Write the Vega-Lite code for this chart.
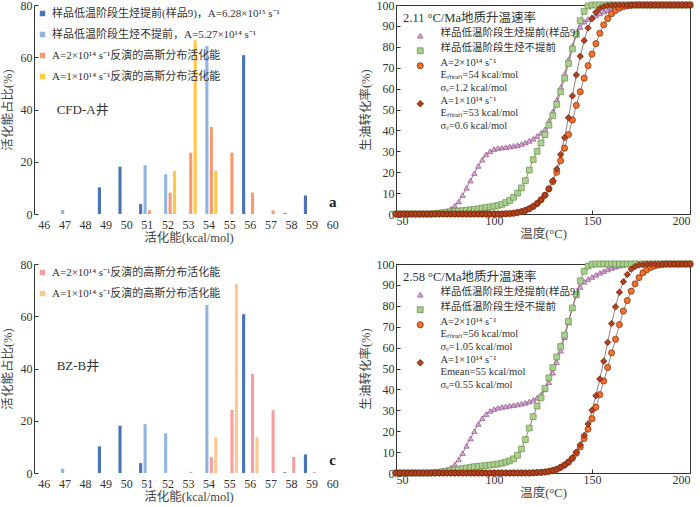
{
"$schema": "https://vega.github.io/schema/vega-lite/v6.json",
"padding": {"left": 1, "top": -2, "right": 2, "bottom": 0},
"columns": 2,
"spacing": {"row": 50, "column": 53},
"bounds": "flush",
"resolve": {
  "scale": {"color": "independent", "fill": "independent", "stroke": "independent", "shape": "independent", "size": "independent"},
  "legend": {"color": "independent", "fill": "independent", "stroke": "independent", "shape": "independent", "size": "independent"}
},
"config": {
  "font": "'Liberation Serif', 'Noto Sans CJK SC'",
  "view": {"stroke": null},
  "axis": {"labelFont": "'Liberation Serif', 'Noto Sans CJK SC'", "titleFont": "'Liberation Serif', 'Noto Sans CJK SC'", "labelFontSize": 12, "titleFontSize": 12.5, "titleFontWeight": "normal", "labelColor": "#333", "titleColor": "#444", "domainColor": "#333", "tickColor": "#333", "grid": false, "tickSize": -4},
  "legend": {"labelFont": "'Liberation Serif', 'Noto Sans CJK SC'", "titleFont": "'Liberation Serif', 'Noto Sans CJK SC'", "labelColor": "#333", "titleColor": "#333"}
},
"datasets": {
"bars": [
{"p":"a","E":49,"s":"s1","v":10.2},{"p":"a","E":50,"s":"s1","v":18.1},{"p":"a","E":51,"s":"s1","v":3.8},{"p":"a","E":56,"s":"s1","v":60.8},{"p":"a","E":58,"s":"s1","v":0.3},{"p":"a","E":59,"s":"s1","v":7.1},
{"p":"a","E":47,"s":"s2","v":1.6},{"p":"a","E":51,"s":"s2","v":18.7},{"p":"a","E":52,"s":"s2","v":15.2},{"p":"a","E":54,"s":"s2","v":64.3},
{"p":"a","E":51,"s":"s3","v":1.4},{"p":"a","E":52,"s":"s3","v":8.2},{"p":"a","E":53,"s":"s3","v":23.5},{"p":"a","E":54,"s":"s3","v":33.3},{"p":"a","E":55,"s":"s3","v":23.5},{"p":"a","E":56,"s":"s3","v":8.2},{"p":"a","E":57,"s":"s3","v":1.4},
{"p":"a","E":52,"s":"s4","v":16.5},{"p":"a","E":53,"s":"s4","v":66.5},{"p":"a","E":54,"s":"s4","v":16.5},
{"p":"c","E":49,"s":"s1","v":10.2},{"p":"c","E":50,"s":"s1","v":18.1},{"p":"c","E":51,"s":"s1","v":3.8},{"p":"c","E":56,"s":"s1","v":60.8},{"p":"c","E":58,"s":"s1","v":0.3},{"p":"c","E":59,"s":"s1","v":7.1},
{"p":"c","E":47,"s":"s2","v":1.6},{"p":"c","E":51,"s":"s2","v":18.7},{"p":"c","E":52,"s":"s2","v":15.2},{"p":"c","E":54,"s":"s2","v":64.3},
{"p":"c","E":53,"s":"s3","v":0.4},{"p":"c","E":54,"s":"s3","v":6.1},{"p":"c","E":55,"s":"s3","v":24.1},{"p":"c","E":56,"s":"s3","v":37.9},{"p":"c","E":57,"s":"s3","v":24.1},{"p":"c","E":58,"s":"s3","v":6.1},{"p":"c","E":59,"s":"s3","v":0.4},
{"p":"c","E":54,"s":"s4","v":13.7},{"p":"c","E":55,"s":"s4","v":72.4},{"p":"c","E":56,"s":"s4","v":13.7}
],
"curves": [
{"p":"b","s":"tri","T":50,"v":0},{"p":"b","s":"tri","T":52,"v":0},{"p":"b","s":"tri","T":54,"v":0},{"p":"b","s":"tri","T":56,"v":0},{"p":"b","s":"tri","T":58,"v":0},{"p":"b","s":"tri","T":60,"v":0},{"p":"b","s":"tri","T":62,"v":0},{"p":"b","s":"tri","T":64,"v":0},{"p":"b","s":"tri","T":66,"v":0},{"p":"b","s":"tri","T":68,"v":0},
{"p":"b","s":"tri","T":70,"v":0.3},{"p":"b","s":"tri","T":72,"v":0.6},{"p":"b","s":"tri","T":74,"v":1},{"p":"b","s":"tri","T":76,"v":1.5},{"p":"b","s":"tri","T":78,"v":2.5},{"p":"b","s":"tri","T":80,"v":4},{"p":"b","s":"tri","T":82,"v":6},{"p":"b","s":"tri","T":84,"v":9},{"p":"b","s":"tri","T":86,"v":12.5},{"p":"b","s":"tri","T":88,"v":16},
{"p":"b","s":"tri","T":90,"v":19.5},{"p":"b","s":"tri","T":92,"v":23},{"p":"b","s":"tri","T":94,"v":26},{"p":"b","s":"tri","T":96,"v":28.5},{"p":"b","s":"tri","T":98,"v":30},{"p":"b","s":"tri","T":100,"v":31},{"p":"b","s":"tri","T":102,"v":31.5},{"p":"b","s":"tri","T":104,"v":31.8},{"p":"b","s":"tri","T":106,"v":32},{"p":"b","s":"tri","T":108,"v":32.3},
{"p":"b","s":"tri","T":110,"v":32.6},{"p":"b","s":"tri","T":112,"v":33},{"p":"b","s":"tri","T":114,"v":33.5},{"p":"b","s":"tri","T":116,"v":34.2},{"p":"b","s":"tri","T":118,"v":35},{"p":"b","s":"tri","T":120,"v":36},{"p":"b","s":"tri","T":122,"v":37.3},{"p":"b","s":"tri","T":124,"v":38.8},{"p":"b","s":"tri","T":126,"v":40.5},{"p":"b","s":"tri","T":128,"v":44.5},
{"p":"b","s":"tri","T":130,"v":49},{"p":"b","s":"tri","T":132,"v":54.5},{"p":"b","s":"tri","T":134,"v":60.5},{"p":"b","s":"tri","T":136,"v":67},{"p":"b","s":"tri","T":138,"v":74},{"p":"b","s":"tri","T":140,"v":80.5},{"p":"b","s":"tri","T":142,"v":86},{"p":"b","s":"tri","T":144,"v":89.5},{"p":"b","s":"tri","T":146,"v":92},{"p":"b","s":"tri","T":148,"v":93.2},
{"p":"b","s":"tri","T":150,"v":94.2},{"p":"b","s":"tri","T":152,"v":95.2},{"p":"b","s":"tri","T":154,"v":96},{"p":"b","s":"tri","T":156,"v":96.8},{"p":"b","s":"tri","T":158,"v":97.5},{"p":"b","s":"tri","T":160,"v":98.2},{"p":"b","s":"tri","T":162,"v":98.8},{"p":"b","s":"tri","T":164,"v":99.3},{"p":"b","s":"tri","T":166,"v":99.7},{"p":"b","s":"tri","T":168,"v":100},
{"p":"b","s":"tri","T":170,"v":100},{"p":"b","s":"tri","T":172,"v":100},{"p":"b","s":"tri","T":174,"v":100},{"p":"b","s":"tri","T":176,"v":100},{"p":"b","s":"tri","T":178,"v":100},{"p":"b","s":"tri","T":180,"v":100},{"p":"b","s":"tri","T":182,"v":100},{"p":"b","s":"tri","T":184,"v":100},{"p":"b","s":"tri","T":186,"v":100},{"p":"b","s":"tri","T":188,"v":100},
{"p":"b","s":"tri","T":190,"v":100},{"p":"b","s":"tri","T":192,"v":100},{"p":"b","s":"tri","T":194,"v":100},{"p":"b","s":"tri","T":196,"v":100},{"p":"b","s":"tri","T":198,"v":100},{"p":"b","s":"tri","T":200,"v":100},

{"p":"b","s":"sq","T":50,"v":0},{"p":"b","s":"sq","T":52,"v":0},{"p":"b","s":"sq","T":54,"v":0},{"p":"b","s":"sq","T":56,"v":0},{"p":"b","s":"sq","T":58,"v":0},{"p":"b","s":"sq","T":60,"v":0},{"p":"b","s":"sq","T":62,"v":0},{"p":"b","s":"sq","T":64,"v":0},{"p":"b","s":"sq","T":66,"v":0},{"p":"b","s":"sq","T":68,"v":0},
{"p":"b","s":"sq","T":70,"v":0.2},{"p":"b","s":"sq","T":72,"v":0.4},{"p":"b","s":"sq","T":74,"v":0.6},{"p":"b","s":"sq","T":76,"v":0.8},{"p":"b","s":"sq","T":78,"v":1},{"p":"b","s":"sq","T":80,"v":1.2},{"p":"b","s":"sq","T":82,"v":1.4},{"p":"b","s":"sq","T":84,"v":1.6},{"p":"b","s":"sq","T":86,"v":1.8},{"p":"b","s":"sq","T":88,"v":2},
{"p":"b","s":"sq","T":90,"v":2.2},{"p":"b","s":"sq","T":92,"v":2.5},{"p":"b","s":"sq","T":94,"v":2.8},{"p":"b","s":"sq","T":96,"v":3.1},{"p":"b","s":"sq","T":98,"v":3.4},{"p":"b","s":"sq","T":100,"v":3.7},{"p":"b","s":"sq","T":102,"v":4.1},{"p":"b","s":"sq","T":104,"v":4.6},{"p":"b","s":"sq","T":106,"v":5.5},{"p":"b","s":"sq","T":108,"v":6.5},
{"p":"b","s":"sq","T":110,"v":8},{"p":"b","s":"sq","T":112,"v":10},{"p":"b","s":"sq","T":114,"v":12.5},{"p":"b","s":"sq","T":116,"v":16},{"p":"b","s":"sq","T":118,"v":21},{"p":"b","s":"sq","T":120,"v":26},{"p":"b","s":"sq","T":122,"v":30},{"p":"b","s":"sq","T":124,"v":34},{"p":"b","s":"sq","T":126,"v":38},{"p":"b","s":"sq","T":128,"v":42.5},
{"p":"b","s":"sq","T":130,"v":47},{"p":"b","s":"sq","T":132,"v":52.5},{"p":"b","s":"sq","T":134,"v":58.5},{"p":"b","s":"sq","T":136,"v":65},{"p":"b","s":"sq","T":138,"v":72},{"p":"b","s":"sq","T":140,"v":79},{"p":"b","s":"sq","T":142,"v":86},{"p":"b","s":"sq","T":144,"v":92.5},{"p":"b","s":"sq","T":146,"v":97},{"p":"b","s":"sq","T":148,"v":99.5},
{"p":"b","s":"sq","T":150,"v":100},{"p":"b","s":"sq","T":152,"v":100},{"p":"b","s":"sq","T":154,"v":100},{"p":"b","s":"sq","T":156,"v":100},{"p":"b","s":"sq","T":158,"v":100},{"p":"b","s":"sq","T":160,"v":100},{"p":"b","s":"sq","T":162,"v":100},{"p":"b","s":"sq","T":164,"v":100},{"p":"b","s":"sq","T":166,"v":100},{"p":"b","s":"sq","T":168,"v":100},
{"p":"b","s":"sq","T":170,"v":100},{"p":"b","s":"sq","T":172,"v":100},{"p":"b","s":"sq","T":174,"v":100},{"p":"b","s":"sq","T":176,"v":100},{"p":"b","s":"sq","T":178,"v":100},{"p":"b","s":"sq","T":180,"v":100},{"p":"b","s":"sq","T":182,"v":100},{"p":"b","s":"sq","T":184,"v":100},{"p":"b","s":"sq","T":186,"v":100},{"p":"b","s":"sq","T":188,"v":100},
{"p":"b","s":"sq","T":190,"v":100},{"p":"b","s":"sq","T":192,"v":100},{"p":"b","s":"sq","T":194,"v":100},{"p":"b","s":"sq","T":196,"v":100},{"p":"b","s":"sq","T":198,"v":100},{"p":"b","s":"sq","T":200,"v":100},

{"p":"b","s":"ci","T":50,"v":0},{"p":"b","s":"ci","T":52,"v":0},{"p":"b","s":"ci","T":54,"v":0},{"p":"b","s":"ci","T":56,"v":0},{"p":"b","s":"ci","T":58,"v":0},{"p":"b","s":"ci","T":60,"v":0},{"p":"b","s":"ci","T":62,"v":0},{"p":"b","s":"ci","T":64,"v":0},{"p":"b","s":"ci","T":66,"v":0},{"p":"b","s":"ci","T":68,"v":0},
{"p":"b","s":"ci","T":70,"v":0},{"p":"b","s":"ci","T":72,"v":0},{"p":"b","s":"ci","T":74,"v":0},{"p":"b","s":"ci","T":76,"v":0},{"p":"b","s":"ci","T":78,"v":0},{"p":"b","s":"ci","T":80,"v":0},{"p":"b","s":"ci","T":82,"v":0},{"p":"b","s":"ci","T":84,"v":0},{"p":"b","s":"ci","T":86,"v":0},{"p":"b","s":"ci","T":88,"v":0},
{"p":"b","s":"ci","T":90,"v":0},{"p":"b","s":"ci","T":92,"v":0},{"p":"b","s":"ci","T":94,"v":0},{"p":"b","s":"ci","T":96,"v":0},{"p":"b","s":"ci","T":98,"v":0},{"p":"b","s":"ci","T":100,"v":0},{"p":"b","s":"ci","T":102,"v":0},{"p":"b","s":"ci","T":104,"v":0},{"p":"b","s":"ci","T":106,"v":0.1},{"p":"b","s":"ci","T":108,"v":0.2},
{"p":"b","s":"ci","T":110,"v":0.4},{"p":"b","s":"ci","T":112,"v":0.7},{"p":"b","s":"ci","T":114,"v":1.1},{"p":"b","s":"ci","T":116,"v":1.7},{"p":"b","s":"ci","T":118,"v":2.5},{"p":"b","s":"ci","T":120,"v":3.6},{"p":"b","s":"ci","T":122,"v":5},{"p":"b","s":"ci","T":124,"v":6.8},{"p":"b","s":"ci","T":126,"v":9},{"p":"b","s":"ci","T":128,"v":12},
{"p":"b","s":"ci","T":130,"v":15.5},{"p":"b","s":"ci","T":132,"v":20},{"p":"b","s":"ci","T":134,"v":25.5},{"p":"b","s":"ci","T":136,"v":31.5},{"p":"b","s":"ci","T":138,"v":38},{"p":"b","s":"ci","T":140,"v":45},{"p":"b","s":"ci","T":142,"v":52},{"p":"b","s":"ci","T":144,"v":58.5},{"p":"b","s":"ci","T":146,"v":65},{"p":"b","s":"ci","T":148,"v":71},
{"p":"b","s":"ci","T":150,"v":76.5},{"p":"b","s":"ci","T":152,"v":81.5},{"p":"b","s":"ci","T":154,"v":86.5},{"p":"b","s":"ci","T":156,"v":90.5},{"p":"b","s":"ci","T":158,"v":93.5},{"p":"b","s":"ci","T":160,"v":95.8},{"p":"b","s":"ci","T":162,"v":97.4},{"p":"b","s":"ci","T":164,"v":98.5},{"p":"b","s":"ci","T":166,"v":99.2},{"p":"b","s":"ci","T":168,"v":99.6},
{"p":"b","s":"ci","T":170,"v":99.9},{"p":"b","s":"ci","T":172,"v":100},{"p":"b","s":"ci","T":174,"v":100},{"p":"b","s":"ci","T":176,"v":100},{"p":"b","s":"ci","T":178,"v":100},{"p":"b","s":"ci","T":180,"v":100},{"p":"b","s":"ci","T":182,"v":100},{"p":"b","s":"ci","T":184,"v":100},{"p":"b","s":"ci","T":186,"v":100},{"p":"b","s":"ci","T":188,"v":100},
{"p":"b","s":"ci","T":190,"v":100},{"p":"b","s":"ci","T":192,"v":100},{"p":"b","s":"ci","T":194,"v":100},{"p":"b","s":"ci","T":196,"v":100},{"p":"b","s":"ci","T":198,"v":100},{"p":"b","s":"ci","T":200,"v":100},

{"p":"b","s":"di","T":50,"v":0},{"p":"b","s":"di","T":52,"v":0},{"p":"b","s":"di","T":54,"v":0},{"p":"b","s":"di","T":56,"v":0},{"p":"b","s":"di","T":58,"v":0},{"p":"b","s":"di","T":60,"v":0},{"p":"b","s":"di","T":62,"v":0},{"p":"b","s":"di","T":64,"v":0},{"p":"b","s":"di","T":66,"v":0},{"p":"b","s":"di","T":68,"v":0},
{"p":"b","s":"di","T":70,"v":0},{"p":"b","s":"di","T":72,"v":0},{"p":"b","s":"di","T":74,"v":0},{"p":"b","s":"di","T":76,"v":0},{"p":"b","s":"di","T":78,"v":0},{"p":"b","s":"di","T":80,"v":0},{"p":"b","s":"di","T":82,"v":0},{"p":"b","s":"di","T":84,"v":0},{"p":"b","s":"di","T":86,"v":0},{"p":"b","s":"di","T":88,"v":0},
{"p":"b","s":"di","T":90,"v":0},{"p":"b","s":"di","T":92,"v":0},{"p":"b","s":"di","T":94,"v":0},{"p":"b","s":"di","T":96,"v":0},{"p":"b","s":"di","T":98,"v":0},{"p":"b","s":"di","T":100,"v":0},{"p":"b","s":"di","T":102,"v":0},{"p":"b","s":"di","T":104,"v":0},{"p":"b","s":"di","T":106,"v":0.1},{"p":"b","s":"di","T":108,"v":0.2},
{"p":"b","s":"di","T":110,"v":0.4},{"p":"b","s":"di","T":112,"v":0.7},{"p":"b","s":"di","T":114,"v":1.1},{"p":"b","s":"di","T":116,"v":1.7},{"p":"b","s":"di","T":118,"v":2.5},{"p":"b","s":"di","T":120,"v":3.6},{"p":"b","s":"di","T":122,"v":5},{"p":"b","s":"di","T":124,"v":6.8},{"p":"b","s":"di","T":126,"v":9},{"p":"b","s":"di","T":128,"v":12},
{"p":"b","s":"di","T":130,"v":16},{"p":"b","s":"di","T":132,"v":21.5},{"p":"b","s":"di","T":134,"v":28.5},{"p":"b","s":"di","T":136,"v":36.5},{"p":"b","s":"di","T":138,"v":46},{"p":"b","s":"di","T":140,"v":56.5},{"p":"b","s":"di","T":142,"v":66.5},{"p":"b","s":"di","T":144,"v":75.5},{"p":"b","s":"di","T":146,"v":83},{"p":"b","s":"di","T":148,"v":89},
{"p":"b","s":"di","T":150,"v":93.5},{"p":"b","s":"di","T":152,"v":96.5},{"p":"b","s":"di","T":154,"v":98.3},{"p":"b","s":"di","T":156,"v":99.2},{"p":"b","s":"di","T":158,"v":99.7},{"p":"b","s":"di","T":160,"v":100},{"p":"b","s":"di","T":162,"v":100},{"p":"b","s":"di","T":164,"v":100},{"p":"b","s":"di","T":166,"v":100},{"p":"b","s":"di","T":168,"v":100},
{"p":"b","s":"di","T":170,"v":100},{"p":"b","s":"di","T":172,"v":100},{"p":"b","s":"di","T":174,"v":100},{"p":"b","s":"di","T":176,"v":100},{"p":"b","s":"di","T":178,"v":100},{"p":"b","s":"di","T":180,"v":100},{"p":"b","s":"di","T":182,"v":100},{"p":"b","s":"di","T":184,"v":100},{"p":"b","s":"di","T":186,"v":100},{"p":"b","s":"di","T":188,"v":100},
{"p":"b","s":"di","T":190,"v":100},{"p":"b","s":"di","T":192,"v":100},{"p":"b","s":"di","T":194,"v":100},{"p":"b","s":"di","T":196,"v":100},{"p":"b","s":"di","T":198,"v":100},{"p":"b","s":"di","T":200,"v":100},

{"p":"d","s":"tri","T":50,"v":0},{"p":"d","s":"tri","T":52,"v":0},{"p":"d","s":"tri","T":54,"v":0},{"p":"d","s":"tri","T":56,"v":0},{"p":"d","s":"tri","T":58,"v":0},{"p":"d","s":"tri","T":60,"v":0},{"p":"d","s":"tri","T":62,"v":0},{"p":"d","s":"tri","T":64,"v":0},{"p":"d","s":"tri","T":66,"v":0},{"p":"d","s":"tri","T":68,"v":0},
{"p":"d","s":"tri","T":70,"v":0.3},{"p":"d","s":"tri","T":72,"v":0.6},{"p":"d","s":"tri","T":74,"v":1},{"p":"d","s":"tri","T":76,"v":1.6},{"p":"d","s":"tri","T":78,"v":2.6},{"p":"d","s":"tri","T":80,"v":4.2},{"p":"d","s":"tri","T":82,"v":6.5},{"p":"d","s":"tri","T":84,"v":9.5},{"p":"d","s":"tri","T":86,"v":13},{"p":"d","s":"tri","T":88,"v":16.5},
{"p":"d","s":"tri","T":90,"v":20},{"p":"d","s":"tri","T":92,"v":23.5},{"p":"d","s":"tri","T":94,"v":26.2},{"p":"d","s":"tri","T":96,"v":28.2},{"p":"d","s":"tri","T":98,"v":29.7},{"p":"d","s":"tri","T":100,"v":30.6},{"p":"d","s":"tri","T":102,"v":31.2},{"p":"d","s":"tri","T":104,"v":31.6},{"p":"d","s":"tri","T":106,"v":31.9},{"p":"d","s":"tri","T":108,"v":32.2},
{"p":"d","s":"tri","T":110,"v":32.5},{"p":"d","s":"tri","T":112,"v":32.8},{"p":"d","s":"tri","T":114,"v":33.2},{"p":"d","s":"tri","T":116,"v":33.6},{"p":"d","s":"tri","T":118,"v":34.2},{"p":"d","s":"tri","T":120,"v":35},{"p":"d","s":"tri","T":122,"v":36},{"p":"d","s":"tri","T":124,"v":37.5},{"p":"d","s":"tri","T":126,"v":40},{"p":"d","s":"tri","T":128,"v":43.5},
{"p":"d","s":"tri","T":130,"v":48},{"p":"d","s":"tri","T":132,"v":53},{"p":"d","s":"tri","T":134,"v":58.5},{"p":"d","s":"tri","T":136,"v":65},{"p":"d","s":"tri","T":138,"v":72},{"p":"d","s":"tri","T":140,"v":79},{"p":"d","s":"tri","T":142,"v":85},{"p":"d","s":"tri","T":144,"v":89},{"p":"d","s":"tri","T":146,"v":91.5},{"p":"d","s":"tri","T":148,"v":92.8},
{"p":"d","s":"tri","T":150,"v":93.8},{"p":"d","s":"tri","T":152,"v":94.8},{"p":"d","s":"tri","T":154,"v":95.8},{"p":"d","s":"tri","T":156,"v":96.6},{"p":"d","s":"tri","T":158,"v":97.4},{"p":"d","s":"tri","T":160,"v":98.1},{"p":"d","s":"tri","T":162,"v":98.7},{"p":"d","s":"tri","T":164,"v":99.2},{"p":"d","s":"tri","T":166,"v":99.6},{"p":"d","s":"tri","T":168,"v":99.9},
{"p":"d","s":"tri","T":170,"v":100},{"p":"d","s":"tri","T":172,"v":100},{"p":"d","s":"tri","T":174,"v":100},{"p":"d","s":"tri","T":176,"v":100},{"p":"d","s":"tri","T":178,"v":100},{"p":"d","s":"tri","T":180,"v":100},{"p":"d","s":"tri","T":182,"v":100},{"p":"d","s":"tri","T":184,"v":100},{"p":"d","s":"tri","T":186,"v":100},{"p":"d","s":"tri","T":188,"v":100},
{"p":"d","s":"tri","T":190,"v":100},{"p":"d","s":"tri","T":192,"v":100},{"p":"d","s":"tri","T":194,"v":100},{"p":"d","s":"tri","T":196,"v":100},{"p":"d","s":"tri","T":198,"v":100},{"p":"d","s":"tri","T":200,"v":100},

{"p":"d","s":"sq","T":50,"v":0},{"p":"d","s":"sq","T":52,"v":0},{"p":"d","s":"sq","T":54,"v":0},{"p":"d","s":"sq","T":56,"v":0},{"p":"d","s":"sq","T":58,"v":0},{"p":"d","s":"sq","T":60,"v":0},{"p":"d","s":"sq","T":62,"v":0},{"p":"d","s":"sq","T":64,"v":0},{"p":"d","s":"sq","T":66,"v":0},{"p":"d","s":"sq","T":68,"v":0},
{"p":"d","s":"sq","T":70,"v":0.2},{"p":"d","s":"sq","T":72,"v":0.4},{"p":"d","s":"sq","T":74,"v":0.6},{"p":"d","s":"sq","T":76,"v":0.9},{"p":"d","s":"sq","T":78,"v":1.2},{"p":"d","s":"sq","T":80,"v":1.5},{"p":"d","s":"sq","T":82,"v":1.8},{"p":"d","s":"sq","T":84,"v":2.1},{"p":"d","s":"sq","T":86,"v":2.4},{"p":"d","s":"sq","T":88,"v":2.7},
{"p":"d","s":"sq","T":90,"v":3},{"p":"d","s":"sq","T":92,"v":3.2},{"p":"d","s":"sq","T":94,"v":3.4},{"p":"d","s":"sq","T":96,"v":3.6},{"p":"d","s":"sq","T":98,"v":3.8},{"p":"d","s":"sq","T":100,"v":4},{"p":"d","s":"sq","T":102,"v":4.3},{"p":"d","s":"sq","T":104,"v":4.7},{"p":"d","s":"sq","T":106,"v":5.2},{"p":"d","s":"sq","T":108,"v":5.8},
{"p":"d","s":"sq","T":110,"v":6.8},{"p":"d","s":"sq","T":112,"v":8.5},{"p":"d","s":"sq","T":114,"v":11.5},{"p":"d","s":"sq","T":116,"v":16},{"p":"d","s":"sq","T":118,"v":21.5},{"p":"d","s":"sq","T":120,"v":27},{"p":"d","s":"sq","T":122,"v":32},{"p":"d","s":"sq","T":124,"v":36},{"p":"d","s":"sq","T":126,"v":40.5},{"p":"d","s":"sq","T":128,"v":45.5},
{"p":"d","s":"sq","T":130,"v":50.5},{"p":"d","s":"sq","T":132,"v":55.5},{"p":"d","s":"sq","T":134,"v":60.5},{"p":"d","s":"sq","T":136,"v":66},{"p":"d","s":"sq","T":138,"v":72.5},{"p":"d","s":"sq","T":140,"v":79},{"p":"d","s":"sq","T":142,"v":85.5},{"p":"d","s":"sq","T":144,"v":92},{"p":"d","s":"sq","T":146,"v":96.5},{"p":"d","s":"sq","T":148,"v":99},
{"p":"d","s":"sq","T":150,"v":99.8},{"p":"d","s":"sq","T":152,"v":100},{"p":"d","s":"sq","T":154,"v":100},{"p":"d","s":"sq","T":156,"v":100},{"p":"d","s":"sq","T":158,"v":100},{"p":"d","s":"sq","T":160,"v":100},{"p":"d","s":"sq","T":162,"v":100},{"p":"d","s":"sq","T":164,"v":100},{"p":"d","s":"sq","T":166,"v":100},{"p":"d","s":"sq","T":168,"v":100},
{"p":"d","s":"sq","T":170,"v":100},{"p":"d","s":"sq","T":172,"v":100},{"p":"d","s":"sq","T":174,"v":100},{"p":"d","s":"sq","T":176,"v":100},{"p":"d","s":"sq","T":178,"v":100},{"p":"d","s":"sq","T":180,"v":100},{"p":"d","s":"sq","T":182,"v":100},{"p":"d","s":"sq","T":184,"v":100},{"p":"d","s":"sq","T":186,"v":100},{"p":"d","s":"sq","T":188,"v":100},
{"p":"d","s":"sq","T":190,"v":100},{"p":"d","s":"sq","T":192,"v":100},{"p":"d","s":"sq","T":194,"v":100},{"p":"d","s":"sq","T":196,"v":100},{"p":"d","s":"sq","T":198,"v":100},{"p":"d","s":"sq","T":200,"v":100},

{"p":"d","s":"ci","T":50,"v":0},{"p":"d","s":"ci","T":52,"v":0},{"p":"d","s":"ci","T":54,"v":0},{"p":"d","s":"ci","T":56,"v":0},{"p":"d","s":"ci","T":58,"v":0},{"p":"d","s":"ci","T":60,"v":0},{"p":"d","s":"ci","T":62,"v":0},{"p":"d","s":"ci","T":64,"v":0},{"p":"d","s":"ci","T":66,"v":0},{"p":"d","s":"ci","T":68,"v":0},
{"p":"d","s":"ci","T":70,"v":0},{"p":"d","s":"ci","T":72,"v":0},{"p":"d","s":"ci","T":74,"v":0},{"p":"d","s":"ci","T":76,"v":0},{"p":"d","s":"ci","T":78,"v":0},{"p":"d","s":"ci","T":80,"v":0},{"p":"d","s":"ci","T":82,"v":0},{"p":"d","s":"ci","T":84,"v":0},{"p":"d","s":"ci","T":86,"v":0},{"p":"d","s":"ci","T":88,"v":0},
{"p":"d","s":"ci","T":90,"v":0},{"p":"d","s":"ci","T":92,"v":0},{"p":"d","s":"ci","T":94,"v":0},{"p":"d","s":"ci","T":96,"v":0},{"p":"d","s":"ci","T":98,"v":0},{"p":"d","s":"ci","T":100,"v":0},{"p":"d","s":"ci","T":102,"v":0},{"p":"d","s":"ci","T":104,"v":0},{"p":"d","s":"ci","T":106,"v":0},{"p":"d","s":"ci","T":108,"v":0},
{"p":"d","s":"ci","T":110,"v":0},{"p":"d","s":"ci","T":112,"v":0},{"p":"d","s":"ci","T":114,"v":0},{"p":"d","s":"ci","T":116,"v":0},{"p":"d","s":"ci","T":118,"v":0},{"p":"d","s":"ci","T":120,"v":0.1},{"p":"d","s":"ci","T":122,"v":0.2},{"p":"d","s":"ci","T":124,"v":0.3},{"p":"d","s":"ci","T":126,"v":0.5},{"p":"d","s":"ci","T":128,"v":0.8},
{"p":"d","s":"ci","T":130,"v":1.2},{"p":"d","s":"ci","T":132,"v":1.8},{"p":"d","s":"ci","T":134,"v":2.7},{"p":"d","s":"ci","T":136,"v":3.8},{"p":"d","s":"ci","T":138,"v":5.2},{"p":"d","s":"ci","T":140,"v":7},{"p":"d","s":"ci","T":142,"v":9.5},{"p":"d","s":"ci","T":144,"v":12.5},{"p":"d","s":"ci","T":146,"v":16.5},{"p":"d","s":"ci","T":148,"v":21},
{"p":"d","s":"ci","T":150,"v":26},{"p":"d","s":"ci","T":152,"v":31.5},{"p":"d","s":"ci","T":154,"v":37.5},{"p":"d","s":"ci","T":156,"v":44},{"p":"d","s":"ci","T":158,"v":50.5},{"p":"d","s":"ci","T":160,"v":57.5},{"p":"d","s":"ci","T":162,"v":64},{"p":"d","s":"ci","T":164,"v":71},{"p":"d","s":"ci","T":166,"v":77.5},{"p":"d","s":"ci","T":168,"v":82.5},
{"p":"d","s":"ci","T":170,"v":87},{"p":"d","s":"ci","T":172,"v":90.5},{"p":"d","s":"ci","T":174,"v":93.5},{"p":"d","s":"ci","T":176,"v":95.8},{"p":"d","s":"ci","T":178,"v":97.3},{"p":"d","s":"ci","T":180,"v":98.4},{"p":"d","s":"ci","T":182,"v":99.1},{"p":"d","s":"ci","T":184,"v":99.5},{"p":"d","s":"ci","T":186,"v":99.8},{"p":"d","s":"ci","T":188,"v":100},
{"p":"d","s":"ci","T":190,"v":100},{"p":"d","s":"ci","T":192,"v":100},{"p":"d","s":"ci","T":194,"v":100},{"p":"d","s":"ci","T":196,"v":100},{"p":"d","s":"ci","T":198,"v":100},{"p":"d","s":"ci","T":200,"v":100},

{"p":"d","s":"di","T":50,"v":0},{"p":"d","s":"di","T":52,"v":0},{"p":"d","s":"di","T":54,"v":0},{"p":"d","s":"di","T":56,"v":0},{"p":"d","s":"di","T":58,"v":0},{"p":"d","s":"di","T":60,"v":0},{"p":"d","s":"di","T":62,"v":0},{"p":"d","s":"di","T":64,"v":0},{"p":"d","s":"di","T":66,"v":0},{"p":"d","s":"di","T":68,"v":0},
{"p":"d","s":"di","T":70,"v":0},{"p":"d","s":"di","T":72,"v":0},{"p":"d","s":"di","T":74,"v":0},{"p":"d","s":"di","T":76,"v":0},{"p":"d","s":"di","T":78,"v":0},{"p":"d","s":"di","T":80,"v":0},{"p":"d","s":"di","T":82,"v":0},{"p":"d","s":"di","T":84,"v":0},{"p":"d","s":"di","T":86,"v":0},{"p":"d","s":"di","T":88,"v":0},
{"p":"d","s":"di","T":90,"v":0},{"p":"d","s":"di","T":92,"v":0},{"p":"d","s":"di","T":94,"v":0},{"p":"d","s":"di","T":96,"v":0},{"p":"d","s":"di","T":98,"v":0},{"p":"d","s":"di","T":100,"v":0},{"p":"d","s":"di","T":102,"v":0},{"p":"d","s":"di","T":104,"v":0},{"p":"d","s":"di","T":106,"v":0},{"p":"d","s":"di","T":108,"v":0},
{"p":"d","s":"di","T":110,"v":0},{"p":"d","s":"di","T":112,"v":0},{"p":"d","s":"di","T":114,"v":0},{"p":"d","s":"di","T":116,"v":0},{"p":"d","s":"di","T":118,"v":0},{"p":"d","s":"di","T":120,"v":0.1},{"p":"d","s":"di","T":122,"v":0.2},{"p":"d","s":"di","T":124,"v":0.3},{"p":"d","s":"di","T":126,"v":0.5},{"p":"d","s":"di","T":128,"v":0.8},
{"p":"d","s":"di","T":130,"v":1.2},{"p":"d","s":"di","T":132,"v":1.8},{"p":"d","s":"di","T":134,"v":2.7},{"p":"d","s":"di","T":136,"v":3.8},{"p":"d","s":"di","T":138,"v":5.3},{"p":"d","s":"di","T":140,"v":7.3},{"p":"d","s":"di","T":142,"v":10},{"p":"d","s":"di","T":144,"v":13.5},{"p":"d","s":"di","T":146,"v":18},{"p":"d","s":"di","T":148,"v":23.5},
{"p":"d","s":"di","T":150,"v":30},{"p":"d","s":"di","T":152,"v":37},{"p":"d","s":"di","T":154,"v":45},{"p":"d","s":"di","T":156,"v":53.5},{"p":"d","s":"di","T":158,"v":62.5},{"p":"d","s":"di","T":160,"v":71.5},{"p":"d","s":"di","T":162,"v":79.5},{"p":"d","s":"di","T":164,"v":86.5},{"p":"d","s":"di","T":166,"v":91.5},{"p":"d","s":"di","T":168,"v":95},
{"p":"d","s":"di","T":170,"v":97.5},{"p":"d","s":"di","T":172,"v":98.8},{"p":"d","s":"di","T":174,"v":99.5},{"p":"d","s":"di","T":176,"v":99.8},{"p":"d","s":"di","T":178,"v":100},{"p":"d","s":"di","T":180,"v":100},{"p":"d","s":"di","T":182,"v":100},{"p":"d","s":"di","T":184,"v":100},{"p":"d","s":"di","T":186,"v":100},{"p":"d","s":"di","T":188,"v":100},
{"p":"d","s":"di","T":190,"v":100},{"p":"d","s":"di","T":192,"v":100},{"p":"d","s":"di","T":194,"v":100},{"p":"d","s":"di","T":196,"v":100},{"p":"d","s":"di","T":198,"v":100},{"p":"d","s":"di","T":200,"v":100}
]
},
"concat": [
{
  "width": 309, "height": 209,
  "layer": [
    {
      "data": {"name": "bars"},
      "transform": [{"filter": "datum.p == 'a'"}],
      "mark": {"type": "bar"},
      "encoding": {
        "x": {"field": "E", "type": "ordinal", "scale": {"domain": [46,47,48,49,50,51,52,53,54,55,56,57,58,59,60], "paddingInner": 0.2, "paddingOuter": 0.1}, "axis": {"title": "活化能(kcal/mol)", "labelAngle": 0, "ticks": false, "domain": false, "labelPadding": 5, "titlePadding": 1}},
        "xOffset": {"field": "s", "type": "nominal", "scale": {"domain": ["s1","s2","s3","s4"], "paddingInner": 0.3}},
        "y": {"field": "v", "type": "quantitative", "scale": {"domain": [0, 80]}, "axis": {"title": "活化能占比(%)", "values": [0,10,20,30,40,50,60,70,80], "labelPadding": 6, "titlePadding": 6}},
        "color": {"field": "s", "type": "nominal", "scale": {"domain": ["s1","s2","s3","s4"], "range": ["#4A74B8","#92B5E0","#F79A6E","#FFC745"]},
          "legend": {"orient": "top-left", "title": null, "offset": 3, "padding": 0, "symbolType": "square", "symbolSize": 30, "labelFontSize": 11, "rowPadding": 9, "labelLimit": 320, "labelOffset": 4,
            "labelExpr": "datum.value == 's1' ? '样品低温阶段生烃提前(样品9)，A=6.28×10¹⁵ s⁻¹' : datum.value == 's2' ? '样品低温阶段生烃不提前，A=5.27×10¹⁴ s⁻¹' : datum.value == 's3' ? 'A=2×10¹⁴ s⁻¹反演的高斯分布活化能' : 'A=1×10¹⁴ s⁻¹反演的高斯分布活化能'"}}
      }
    },
    {
      "data": {"values": [{}]},
      "mark": {"type": "text", "align": "left", "fontSize": 13, "color": "#333"},
      "encoding": {"x": {"datum": 47, "type": "ordinal", "bandPosition": 0}, "y": {"datum": 40, "type": "quantitative"}, "text": {"value": "CFD-A井"}}
    },
    {
      "data": {"values": [{}]},
      "mark": {"type": "text", "fontSize": 15, "fontWeight": "bold", "color": "#222"},
      "encoding": {"x": {"datum": 60, "type": "ordinal"}, "y": {"datum": 4.5, "type": "quantitative"}, "text": {"value": "a"}}
    }
  ]
},
{
  "width": 294, "height": 209,
  "view": {"stroke": "#333", "strokeWidth": 1},
  "encoding": {
    "x": {"field": "T", "type": "quantitative", "scale": {"domain": [50, 200], "nice": false}, "axis": {"title": "温度(°C)", "values": [50,100,150,200], "labelPadding": 5, "titlePadding": 1}},
    "y": {"field": "v", "type": "quantitative", "scale": {"domain": [0, 100]}, "axis": {"title": "生油转化率(%)", "values": [0,10,20,30,40,50,60,70,80,90,100], "labelPadding": 6, "titlePadding": 4}}
  },
  "layer": [
    {
      "data": {"name": "curves"},
      "transform": [{"filter": "datum.p == 'b'"}],
      "mark": {"type": "line", "stroke": "#7B6060", "strokeWidth": 0.8},
      "encoding": {"detail": {"field": "s"}}
    },
    {
      "data": {"name": "curves"},
      "transform": [{"filter": "datum.p == 'b'"}],
      "mark": {"type": "point", "opacity": 1, "fillOpacity": 1, "strokeWidth": 0.7},
      "encoding": {
        "fill": {"field": "s", "type": "nominal", "scale": {"domain": ["tri","sq","ci","di"], "range": ["#D9A3D6","#A9D08E","#F3712B","#B4401C"]},
          "legend": {"orient": "top-left", "offset": 7, "padding": 0, "title": "2.11 °C/Ma地质升温速率", "titleFontSize": 12.5, "titleFontWeight": "normal", "titlePadding": 6, "titleLimit": 300,
            "labelFontSize": 10.5, "labelLimit": 300, "labelBaseline": "alphabetic", "symbolOffset": 12, "labelOffset": 15, "rowPadding": 2, "symbolStrokeWidth": 0.8,
            "labelExpr": "datum.value == 'tri' ? '样品低温阶段生烃提前(样品9)' : datum.value == 'sq' ? '样品低温阶段生烃不提前' : datum.value == 'ci' ? ['A=2×10¹⁴ s⁻¹', 'Eₘₑₐₙ=54 kcal/mol', 'σₑ=1.2 kcal/mol'] : ['A=1×10¹⁴ s⁻¹', 'Eₘₑₐₙ=53 kcal/mol', 'σₑ=0.6 kcal/mol']"}},
        "stroke": {"field": "s", "type": "nominal", "scale": {"domain": ["tri","sq","ci","di"], "range": ["#8E5A8A","#6B8F4E","#7A2E12","#5E2010"]}},
        "shape": {"field": "s", "type": "nominal", "scale": {"domain": ["tri","sq","ci","di"], "range": ["triangle-up","square","circle","diamond"]}},
        "size": {"field": "s", "type": "nominal", "scale": {"domain": ["tri","sq","ci","di"], "range": [30, 42, 52, 22]}}
      }
    },
    {
      "data": {"values": [{}]},
      "mark": {"type": "text", "fontSize": 15, "fontWeight": "bold", "color": "#222"},
      "encoding": {"x": {"datum": 192}, "y": {"datum": 5.2}, "text": {"value": "b"}}
    }
  ]
},
{
  "width": 309, "height": 209,
  "layer": [
    {
      "data": {"name": "bars"},
      "transform": [{"filter": "datum.p == 'c'"}],
      "mark": {"type": "bar"},
      "encoding": {
        "x": {"field": "E", "type": "ordinal", "scale": {"domain": [46,47,48,49,50,51,52,53,54,55,56,57,58,59,60], "paddingInner": 0.2, "paddingOuter": 0.1}, "axis": {"title": "活化能(kcal/mol)", "labelAngle": 0, "ticks": false, "domain": false, "labelPadding": 5, "titlePadding": 1}},
        "xOffset": {"field": "s", "type": "nominal", "scale": {"domain": ["s1","s2","s3","s4"], "paddingInner": 0.3}},
        "y": {"field": "v", "type": "quantitative", "scale": {"domain": [0, 80]}, "axis": {"title": "活化能占比(%)", "values": [0,10,20,30,40,50,60,70,80], "labelPadding": 6, "titlePadding": 6}},
        "color": {"field": "s", "type": "nominal", "scale": {"domain": ["s1","s2","s3","s4"], "range": ["#4A74B8","#92B5E0","#F5A0A0","#FFC890"]},
          "legend": {"orient": "top-left", "title": null, "offset": 3, "padding": 0, "symbolType": "square", "symbolSize": 30, "labelFontSize": 11, "rowPadding": 9, "labelLimit": 320, "labelOffset": 4, "values": ["s3","s4"],
            "labelExpr": "datum.value == 's3' ? 'A=2×10¹⁴ s⁻¹反演的高斯分布活化能' : 'A=1×10¹⁴ s⁻¹反演的高斯分布活化能'"}}
      }
    },
    {
      "data": {"values": [{}]},
      "mark": {"type": "text", "align": "left", "fontSize": 13, "color": "#333"},
      "encoding": {"x": {"datum": 47, "type": "ordinal", "bandPosition": 0}, "y": {"datum": 41, "type": "quantitative"}, "text": {"value": "BZ-B井"}}
    },
    {
      "data": {"values": [{}]},
      "mark": {"type": "text", "fontSize": 15, "fontWeight": "bold", "color": "#222"},
      "encoding": {"x": {"datum": 60, "type": "ordinal"}, "y": {"datum": 4.9, "type": "quantitative"}, "text": {"value": "c"}}
    }
  ]
},
{
  "width": 294, "height": 209,
  "view": {"stroke": "#333", "strokeWidth": 1},
  "encoding": {
    "x": {"field": "T", "type": "quantitative", "scale": {"domain": [50, 200], "nice": false}, "axis": {"title": "温度(°C)", "values": [50,100,150,200], "labelPadding": 5, "titlePadding": 1}},
    "y": {"field": "v", "type": "quantitative", "scale": {"domain": [0, 100]}, "axis": {"title": "生油转化率(%)", "values": [0,10,20,30,40,50,60,70,80,90,100], "labelPadding": 6, "titlePadding": 4}}
  },
  "layer": [
    {
      "data": {"name": "curves"},
      "transform": [{"filter": "datum.p == 'd'"}],
      "mark": {"type": "line", "stroke": "#7B6060", "strokeWidth": 0.8},
      "encoding": {"detail": {"field": "s"}}
    },
    {
      "data": {"name": "curves"},
      "transform": [{"filter": "datum.p == 'd'"}],
      "mark": {"type": "point", "opacity": 1, "fillOpacity": 1, "strokeWidth": 0.7},
      "encoding": {
        "fill": {"field": "s", "type": "nominal", "scale": {"domain": ["tri","sq","ci","di"], "range": ["#D9A3D6","#A9D08E","#F3712B","#B4401C"]},
          "legend": {"orient": "top-left", "offset": 7, "padding": 0, "title": "2.58 °C/Ma地质升温速率", "titleFontSize": 12.5, "titleFontWeight": "normal", "titlePadding": 6, "titleLimit": 300,
            "labelFontSize": 10.5, "labelLimit": 300, "labelBaseline": "alphabetic", "symbolOffset": 12, "labelOffset": 15, "rowPadding": 2, "symbolStrokeWidth": 0.8,
            "labelExpr": "datum.value == 'tri' ? '样品低温阶段生烃提前(样品9)' : datum.value == 'sq' ? '样品低温阶段生烃不提前' : datum.value == 'ci' ? ['A=2×10¹⁴ s⁻¹', 'Eₘₑₐₙ=56 kcal/mol', 'σₑ=1.05 kcal/mol'] : ['A=1×10¹⁴ s⁻¹', 'Emean=55 kcal/mol', 'σₑ=0.55 kcal/mol']"}},
        "stroke": {"field": "s", "type": "nominal", "scale": {"domain": ["tri","sq","ci","di"], "range": ["#8E5A8A","#6B8F4E","#7A2E12","#5E2010"]}},
        "shape": {"field": "s", "type": "nominal", "scale": {"domain": ["tri","sq","ci","di"], "range": ["triangle-up","square","circle","diamond"]}},
        "size": {"field": "s", "type": "nominal", "scale": {"domain": ["tri","sq","ci","di"], "range": [30, 42, 52, 22]}}
      }
    },
    {
      "data": {"values": [{}]},
      "mark": {"type": "text", "fontSize": 15, "fontWeight": "bold", "color": "#222"},
      "encoding": {"x": {"datum": 192}, "y": {"datum": 6.2}, "text": {"value": "d"}}
    }
  ]
}
]
}
